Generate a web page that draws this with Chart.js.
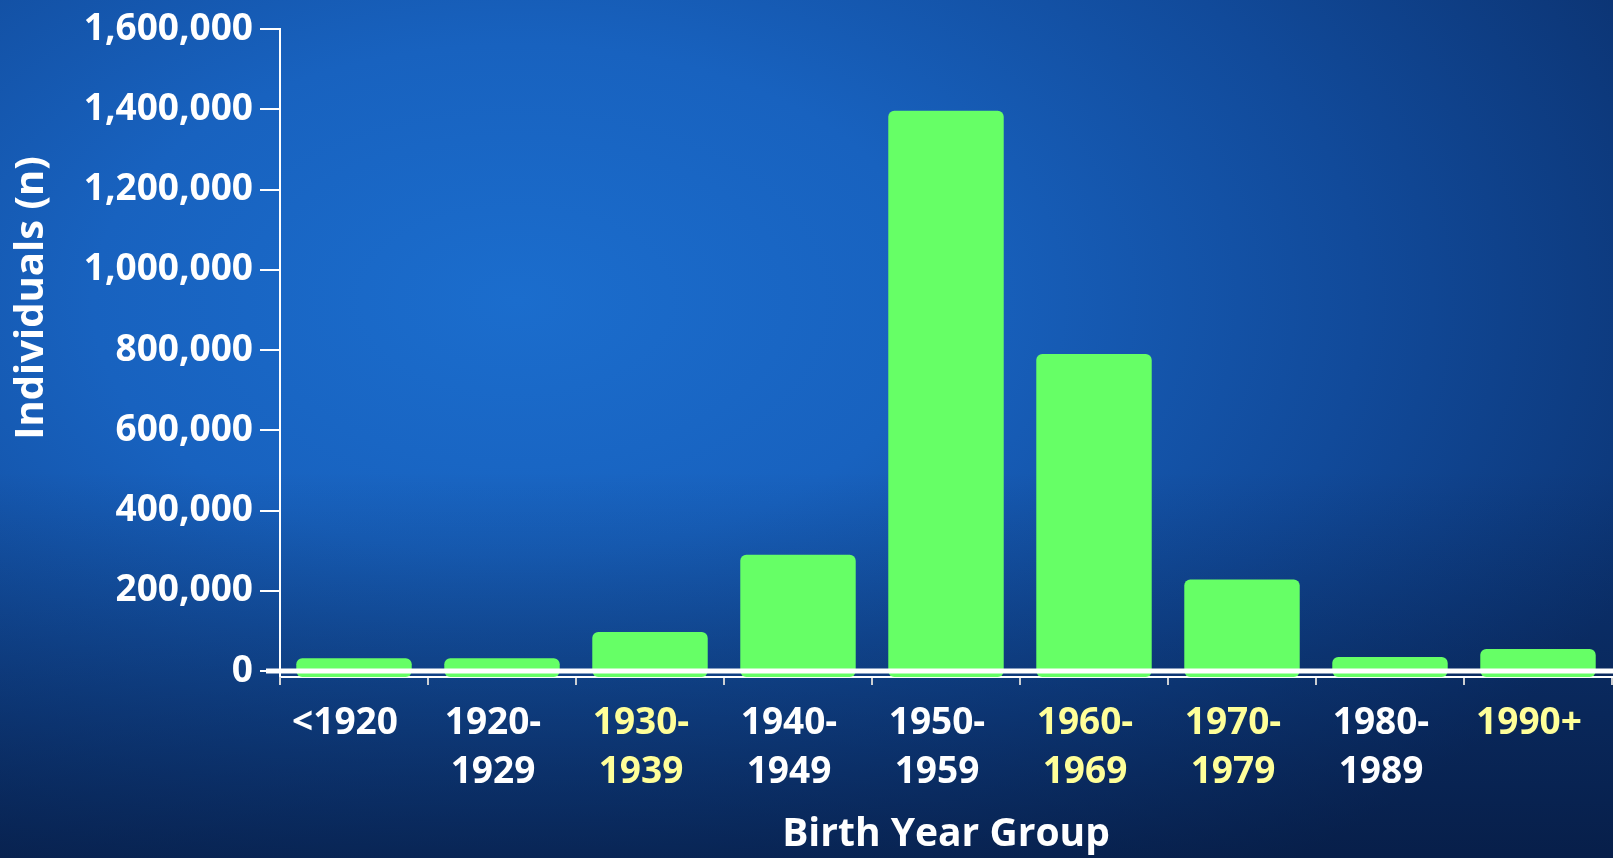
<!DOCTYPE html>
<html>
<head>
<meta charset="utf-8">
<title>Birth Year Group</title>
<script src="https://cdn.jsdelivr.net/npm/chart.js@4.4.1/dist/chart.umd.min.js"></script>
<style>
    html, body {
        margin: 0;
        padding: 0;
        width: 1613px;
        height: 858px;
        overflow: hidden;
    }
    body {
        background:
            linear-gradient(to bottom, rgba(4, 16, 45, 0) 0%, rgba(4, 16, 45, 0) 55%, rgba(4, 16, 45, 0.6) 100%),
            radial-gradient(ellipse 75% 85% at 32% 35%, #1b6dcd 0%, #1862bf 35%, #114a9a 70%, #0c3575 100%);
    }
    canvas { display: block; }
</style>
</head>
<body>
<canvas id="birthChart" width="1613" height="858"></canvas>
<script>
// data
var categories = ['<1920', ['1920-', '1929'], ['1930-', '1939'], ['1940-', '1949'], ['1950-', '1959'],
    ['1960-', '1969'], ['1970-', '1979'], ['1980-', '1989'], '1990+'];
var individuals = [32000, 32000, 97000, 290000, 1397000, 790000, 228000, 35000, 55000];
var yTicks = [0, 200000, 400000, 600000, 800000, 1000000, 1200000, 1400000, 1600000];
var labelColors = ['#ffffff', '#ffffff', '#ffff99', '#ffffff', '#ffffff', '#ffff99', '#ffff99', '#ffffff', '#ffff99'];

var FONT = "'Open Sans', 'DejaVu Sans', sans-serif";

// thick white zero line, axis stub below the baseline, rotated y title
var extrasPlugin = {
    id: 'extras',
    afterDatasetsDraw: function (chart) {
        var ctx = chart.ctx;
        var area = chart.chartArea;
        var y0 = chart.scales.y.getPixelForValue(0);
        ctx.save();
        ctx.strokeStyle = '#ffffff';
        ctx.lineWidth = 5;
        ctx.beginPath();
        ctx.moveTo(area.left - 14, y0);
        ctx.lineTo(chart.width, y0);
        ctx.stroke();
        ctx.lineWidth = 2;
        ctx.strokeStyle = 'rgba(215, 215, 215, 0.95)';
        ctx.beginPath();
        ctx.moveTo(area.left, area.bottom);
        ctx.lineTo(area.left, area.bottom + 8);
        ctx.stroke();
        ctx.restore();
    },
    afterDraw: function (chart) {
        var ctx = chart.ctx;
        ctx.save();
        ctx.translate(32, 298);
        ctx.rotate(-Math.PI / 2);
        ctx.fillStyle = '#ffffff';
        ctx.font = "bold 40px " + FONT;
        ctx.textAlign = 'center';
        ctx.textBaseline = 'middle';
        ctx.fillText('Individuals (n)', 0, 0);
        ctx.restore();
    }
};

var ctx = document.getElementById('birthChart').getContext('2d');
var birthChart = new Chart(ctx, {
    type: 'bar',
    data: {
        labels: categories,
        datasets: [{
            data: individuals,
            base: -15000,
            backgroundColor: '#66ff66',
            borderWidth: 0,
            borderRadius: 6,
            borderSkipped: false,
            barPercentage: 0.78,
            categoryPercentage: 1.0
        }]
    },
    options: {
        responsive: false,
        animation: false,
        layout: { padding: { top: 25, right: 1, left: 0, bottom: 0 } },
        plugins: {
            legend: { display: false },
            tooltip: { enabled: false },
            title: { display: false }
        },
        scales: {
            x: {
                grid: {
                    display: true,
                    drawOnChartArea: false,
                    drawTicks: true,
                    tickLength: 8,
                    color: 'rgba(215, 215, 215, 0.95)',
                    lineWidth: 2
                },
                border: { display: true, color: '#ffffff', width: 2 },
                ticks: {
                    autoSkip: false,
                    maxRotation: 0,
                    padding: 14,
                    labelOffset: -9,
                    color: function (c) { return labelColors[c.index]; },
                    font: { family: FONT, size: 37, weight: 'bold', lineHeight: 1.33 }
                },
                title: {
                    display: true,
                    text: 'Birth Year Group',
                    color: '#ffffff',
                    font: { family: FONT, size: 39, weight: 'bold' },
                    padding: { top: 0, bottom: 0 }
                },
                afterFit: function (scale) { scale.height = 181; }
            },
            y: {
                min: -15000,
                max: 1600000,
                afterBuildTicks: function (scale) {
                    scale.ticks = yTicks.map(function (v) { return { value: v }; });
                },
                grid: {
                    display: true,
                    drawOnChartArea: false,
                    drawTicks: true,
                    tickLength: 20,
                    color: '#ffffff',
                    lineWidth: 2
                },
                border: { display: true, color: '#ffffff', width: 2 },
                ticks: {
                    padding: 7,
                    color: '#ffffff',
                    font: { family: FONT, size: 37, weight: 'bold' },
                    callback: function (v) { return Number(v).toLocaleString('en-US'); }
                },
                afterFit: function (scale) { scale.width = 280; }
            }
        }
    },
    plugins: [extrasPlugin]
});
</script>
</body>
</html>
